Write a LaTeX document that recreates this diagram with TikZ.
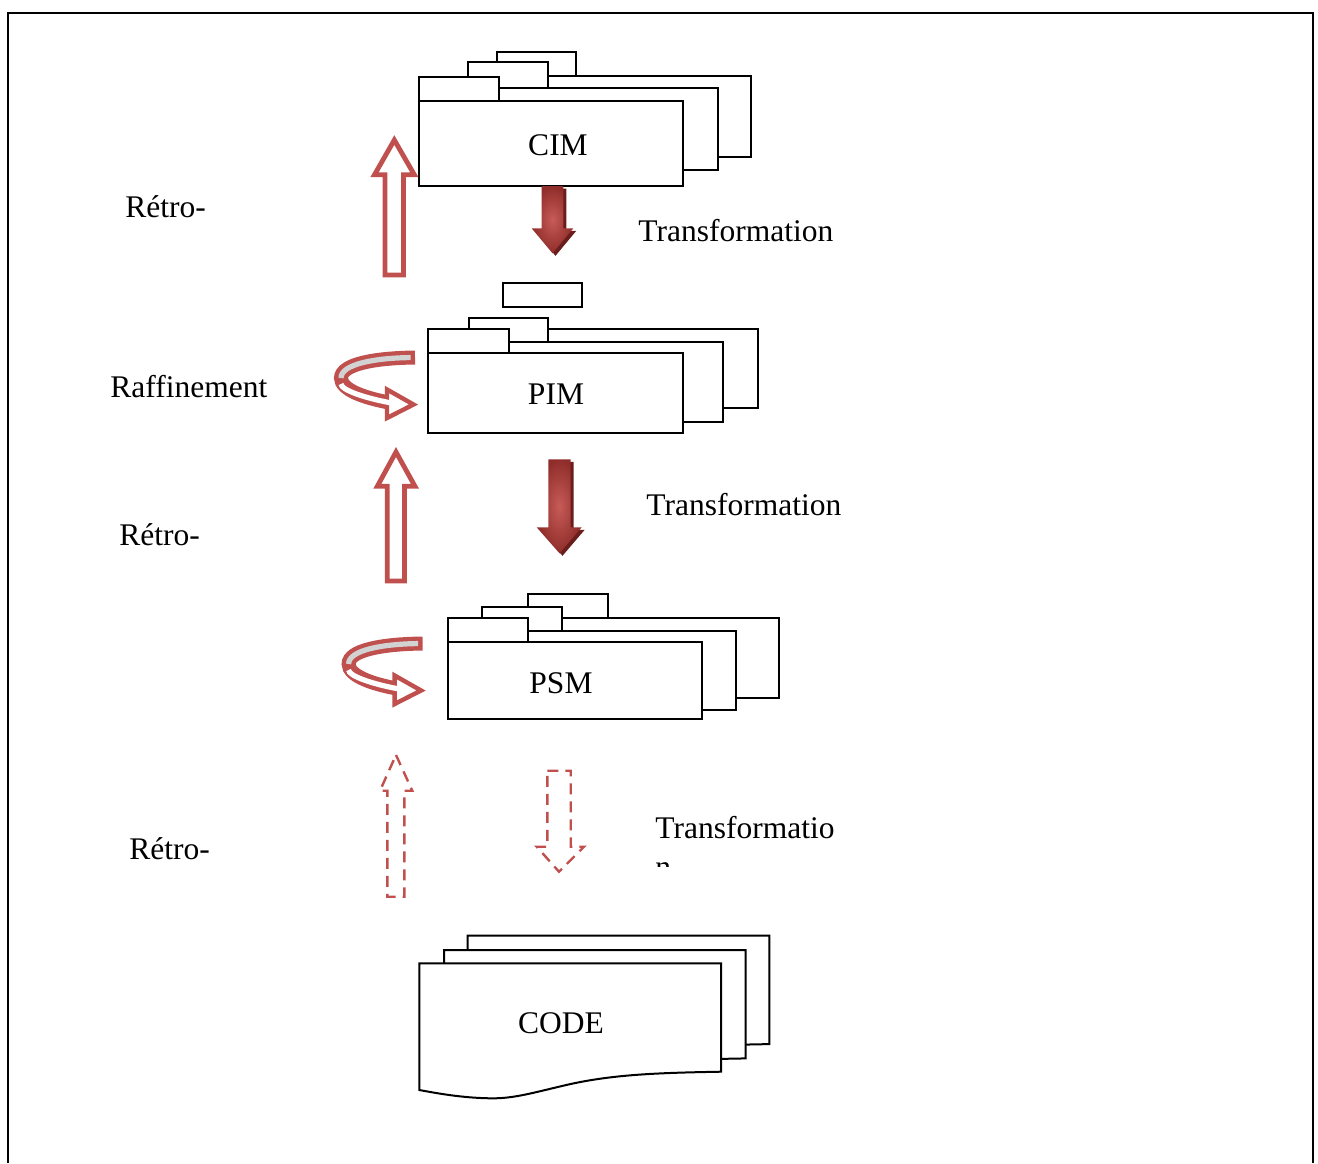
\documentclass[tikz,border=0pt]{standalone}
\usepackage{fontspec}
\setmainfont{Liberation Serif}
\definecolor{mred}{HTML}{C0504D}
\definecolor{mredlight}{HTML}{C75B58}
\definecolor{mreddark}{HTML}{8F2D2A}
\definecolor{mshadow}{HTML}{6A1E1C}
\definecolor{mgrey}{HTML}{D2D2D2}
\begin{document}
\begin{tikzpicture}[x=0.5pt,y=-0.5pt,
  pk/.style={draw=black,fill=white,line width=1pt},
  lbl/.style={font=\fontsize{15.75}{19}\selectfont,inner sep=0pt,anchor=base west},
  ttl/.style={font=\fontsize{15.75}{19}\selectfont,inner sep=0pt,anchor=base},
  hollow/.style={draw=mred,fill=white,line width=2.4pt,line join=miter,miter limit=10},
  dasharrow/.style={draw=mred,line width=1.2pt,dash pattern=on 5.5pt off 3.5pt},
  ribbon/.style={draw=mred,line width=7pt},
  ribbonin/.style={line width=2.6pt},
  solidarrow/.style={inner color=mredlight,outer color=mreddark},
  shadowarrow/.style={fill=mshadow}
]
\useasboundingbox (0,0) rectangle (1318,1163);

% outer frame, open at the bottom
\draw[line width=1.1pt] (8,1163) -- (8,13) -- (1313,13) -- (1313,1163);

% ---------- CIM package stack ----------
\draw[pk] (496.7,52.3) rectangle (575.7,76);
\draw[pk] (496.7,76) rectangle (751,156.7);
\draw[pk] (468.3,61.7) rectangle (547.7,88.3);
\draw[pk] (468.3,88.3) rectangle (717.7,170);
\draw[pk] (419.3,76.7) rectangle (499.3,100.7);
\draw[pk] (419.3,100.7) rectangle (683.3,186);
\node[ttl] (cim) at (558,155) {CIM};

% ---------- PIM package stack ----------
\draw[pk] (503.3,282.7) rectangle (582.3,306.7);
\draw[pk] (503.3,329) rectangle (757.7,408.3);
\draw[pk] (469,317.7) rectangle (548,341.7);
\draw[pk] (469,341.7) rectangle (723.3,421.7);
\draw[pk] (428.3,329.3) rectangle (509,353.3);
\draw[pk] (428.3,353.3) rectangle (683.3,433.3);
\node[ttl] (pim) at (556,404) {PIM};

% ---------- PSM package stack ----------
\draw[pk] (527.7,594.3) rectangle (607.7,617.7);
\draw[pk] (527.7,617.7) rectangle (779.3,697.7);
\draw[pk] (481.7,607.3) rectangle (561.7,630.7);
\draw[pk] (481.7,630.7) rectangle (736,710);
\draw[pk] (447.7,618.3) rectangle (527.7,641.7);
\draw[pk] (447.7,641.7) rectangle (701.7,719.3);
\node[ttl] (psm) at (561,693.3) {PSM};

% ---------- CODE document stack ----------
\foreach \dx/\dy in {48.4/-27.6, 24.7/-13.3, 0/0}{
  \begin{scope}[shift={(419.3+\dx,963.3+\dy)}]
    \draw[pk] (0,0) -- (301.7,0) -- (301.7,108.4)
      .. controls (240,109.5) and (195,111) .. (150,121)
      .. controls (115,129) and (95,135.5) .. (70.7,135)
      .. controls (42,134.5) and (18,130) .. (0,126.7) -- cycle;
  \end{scope}
}
\node[ttl] (code) at (561,1033.3) {CODE};

% ---------- transformation arrows (solid, shaded) ----------
\fill[shadowarrow] (544.7,188.5) -- (566.3,188.5) -- (566.3,230.8) -- (576.3,230.8)
  -- (555.5,255.8) -- (534.7,230.8) -- (544.7,230.8) -- cycle;
\shade[solidarrow] (541.7,186) -- (563.3,186) -- (563.3,228.3) -- (573.3,228.3)
  -- (552.5,253.3) -- (531.7,228.3) -- (541.7,228.3) -- cycle;

\fill[shadowarrow] (551.3,461.8) -- (573.7,461.8) -- (573.7,529.8) -- (584.7,529.8)
  -- (562.5,555.8) -- (539.7,529.8) -- (551.3,529.8) -- cycle;
\shade[solidarrow] (548.3,459.3) -- (570.7,459.3) -- (570.7,527.3) -- (581.7,527.3)
  -- (559.5,553.3) -- (536.7,527.3) -- (548.3,527.3) -- cycle;

% dashed transformation arrow
\draw[dasharrow] (547.3,770.7) -- (570.7,770.7) -- (570.7,846.7) -- (584,846.7)
  -- (559,871.7) -- (536.7,846.7) -- (547.3,846.7) -- cycle;

% ---------- reverse arrows (hollow) ----------
\draw[hollow] (394.3,140) -- (414.3,174.7) -- (403.5,174.7) -- (403.5,275)
  -- (385,275) -- (385,174.7) -- (374.5,174.7) -- cycle;
\draw[hollow] (396,452) -- (415,486.3) -- (404.5,486.3) -- (404.5,581)
  -- (387.3,581) -- (387.3,486.3) -- (377.3,486.3) -- cycle;
\draw[dasharrow] (396,755) -- (412.3,790.7) -- (404.3,790.7) -- (404.3,896.7)
  -- (387.3,896.7) -- (387.3,790.7) -- (380,790.7) -- cycle;

% ---------- refinement loops ----------
\foreach \sx/\sy in {0/0, 7.6/286}{
  \begin{scope}[shift={(\sx,\sy)}]
    \draw[ribbon] (415,357.5) .. controls (375,358) and (341,364) .. (341,378)
      .. controls (341,390) and (365,398) .. (389,402.5);
    \draw[hollow,line width=2.2pt] (387,389.5) -- (413.5,404.5) -- (387,418) -- cycle;
    \draw[ribbonin,mgrey,shorten <=2.2pt] (415,357.5) .. controls (375,358) and (341,364) .. (341,378);
    \draw[ribbonin,white,shorten <=3pt] (341,378)
      .. controls (341,390) and (365,398) .. (389,402.5) -- (392.5,403);
  \end{scope}
}

% ---------- labels ----------
\node[lbl] (retro1) at (125,217.5) {Rétro-};
\node[lbl] (trans1) at (638,241.7) {Transformation};
\node[lbl] (raff) at (110,397) {Raffinement};
\node[lbl] (retro2) at (119,545) {Rétro-};
\node[lbl] (trans2) at (646,515) {Transformation};
\node[lbl] (retro3) at (129,859) {Rétro-};
\begin{scope}
  \clip (600,800) rectangle (900,866.5);
  \node[lbl] (trans3) at (655,838) {Transformatio};
  \node[lbl] (trans3b) at (655,877) {n};
\end{scope}
\end{tikzpicture}
\end{document}
